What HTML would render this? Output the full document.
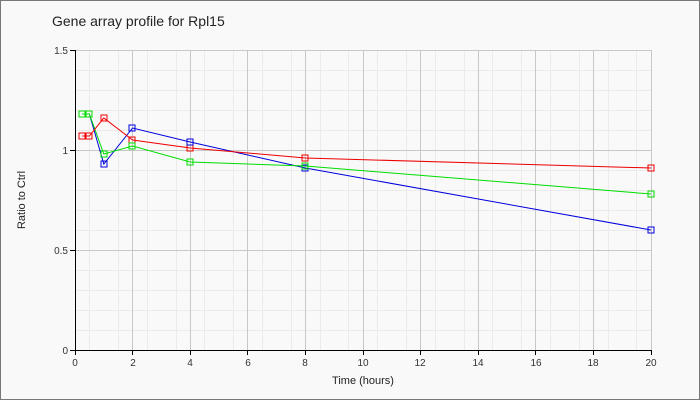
<!DOCTYPE html><html><head><style>body{margin:0}svg{display:block}</style></head><body>
<svg width="700" height="400" xmlns="http://www.w3.org/2000/svg" font-family="Liberation Sans, sans-serif">
<rect x="0.5" y="0.5" width="699" height="399" fill="#f9f9f9" stroke="#777"/>
<text x="52" y="26" font-size="14" fill="#222">Gene array profile for Rpl15</text>
<g stroke="#ebebeb" stroke-width="1">
<path d="M89.5 50V350M118.5 50V350M147.5 50V350M176.5 50V350M204.5 50V350M233.5 50V350M262.5 50V350M291.5 50V350M320.5 50V350M348.5 50V350M377.5 50V350M406.5 50V350M435.5 50V350M464.5 50V350M492.5 50V350M521.5 50V350M550.5 50V350M579.5 50V350M608.5 50V350M636.5 50V350"/>
<path d="M75 70.5H651M75 90.5H651M75 110.5H651M75 130.5H651M75 170.5H651M75 190.5H651M75 210.5H651M75 230.5H651M75 270.5H651M75 290.5H651M75 310.5H651M75 330.5H651"/>
</g>
<g stroke="#c8c8c8">
<path d="M132.5 50V350M190.5 50V350M247.5 50V350M305.5 50V350M363.5 50V350M420.5 50V350M478.5 50V350M535.5 50V350M593.5 50V350M651.5 50V350"/>
<path d="M75 50.5H651M75 150.5H651M75 250.5H651"/>
</g>
<path d="M75.5 50V350.5H651" stroke="#000" fill="none"/>
<path d="M70 50.5H75M70 150.5H75M70 250.5H75M70 350.5H75M75.5 350V355M132.5 350V355M190.5 350V355M247.5 350V355M305.5 350V355M363.5 350V355M420.5 350V355M478.5 350V355M535.5 350V355M593.5 350V355M651.5 350V355" stroke="#000"/>
<g font-size="10" fill="#333" text-anchor="end">
<text x="68" y="54">1.5</text><text x="68" y="154">1</text><text x="68" y="254">0.5</text><text x="68" y="354">0</text></g>
<g font-size="10" fill="#333" text-anchor="middle">
<text x="75" y="366">0</text><text x="133" y="366">2</text><text x="190" y="366">4</text><text x="248" y="366">6</text><text x="305" y="366">8</text><text x="363" y="366">10</text><text x="420" y="366">12</text><text x="478" y="366">14</text><text x="536" y="366">16</text><text x="593" y="366">18</text><text x="651" y="366">20</text></g>
<text x="363" y="384" font-size="11" text-anchor="middle" fill="#222">Time (hours)</text>
<text transform="translate(25,200) rotate(-90)" font-size="11" text-anchor="middle" fill="#222">Ratio to Ctrl</text>
<g fill="none" stroke-width="1">
<polyline stroke="#0000dd" points="82.2,114 89.4,114 103.8,164 132.6,128 190.2,142 305.4,168 651,230"/>
<polyline stroke="#00dd00" points="82.2,114 89.4,114 103.8,154 132.6,146 190.2,162 305.4,166 651,194"/>
<polyline stroke="#ee0000" points="82.2,136 89.4,136 103.8,118 132.6,140 190.2,148 305.4,158 651,168"/>
</g>
<g fill="none">
<g stroke="#ee0000"><rect x="79" y="133" width="6" height="6"/><rect x="86" y="133" width="6" height="6"/><rect x="101" y="115" width="6" height="6"/><rect x="129" y="137" width="6" height="6"/><rect x="187" y="145" width="6" height="6"/><rect x="302" y="155" width="6" height="6"/><rect x="648" y="165" width="6" height="6"/></g>
<g stroke="#0000dd"><rect x="101" y="161" width="6" height="6"/><rect x="129" y="125" width="6" height="6"/><rect x="187" y="139" width="6" height="6"/><rect x="302" y="165" width="6" height="6"/><rect x="648" y="227" width="6" height="6"/></g>
<g stroke="#00dd00"><rect x="79" y="111" width="6" height="6"/><rect x="86" y="111" width="6" height="6"/><rect x="101" y="151" width="6" height="6"/><rect x="129" y="143" width="6" height="6"/><rect x="187" y="159" width="6" height="6"/><rect x="302" y="163" width="6" height="6"/><rect x="648" y="191" width="6" height="6"/></g>
</g>
</svg></body></html>
